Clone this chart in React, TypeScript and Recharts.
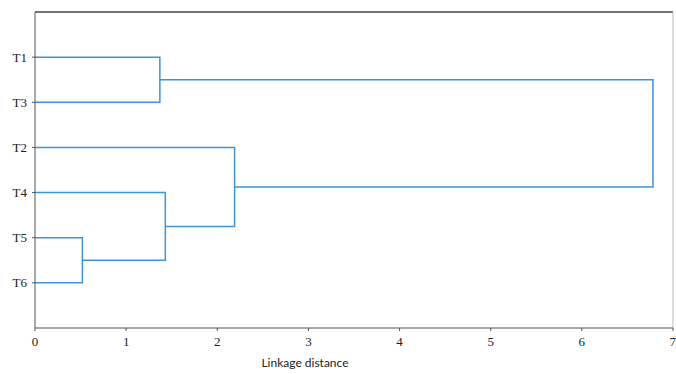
import React from 'react';
import { LineChart, Line, XAxis, YAxis, ReferenceLine } from 'recharts';

// leaves in the order they appear from top to bottom
const leaves = ['T1', 'T3', 'T2', 'T4', 'T5', 'T6'];

// each merge: new cluster name, left child, right child, linkage distance
const mergeNames = ['C1', 'C2', 'C3', 'C4', 'C5'];
const mergeLeft = ['T1', 'T5', 'T4', 'T2', 'C1'];
const mergeRight = ['T3', 'T6', 'C2', 'C3', 'C4'];
const mergeHeights = [1.37, 0.52, 1.43, 2.19, 6.78];

const xTicks = [0, 1, 2, 3, 4, 5, 6, 7];

type Pt = { x: number; y: number };

const buildLinks = (): Pt[][] => {
  const nodes: Record<string, Pt> = {};
  leaves.forEach((l, i) => {
    nodes[l] = { x: 0, y: i + 1 };
  });
  return mergeNames.map((name, i) => {
    const a = nodes[mergeLeft[i]];
    const b = nodes[mergeRight[i]];
    const h = mergeHeights[i];
    nodes[name] = { x: h, y: (a.y + b.y) / 2 };
    return [
      { x: a.x, y: a.y },
      { x: h, y: a.y },
      { x: h, y: b.y },
      { x: b.x, y: b.y },
    ];
  });
};

const links = buildLinks();

const serif = '"Liberation Serif", "DejaVu Serif", serif';

const App = () => {
  return (
    <div style={{ position: 'absolute', left: 0, top: 0, background: '#fff' }}>
      <LineChart width={676} height={374} margin={{ top: 12, right: 3, bottom: 0, left: 0 }}>
        <XAxis
          type="number"
          dataKey="x"
          domain={[0, 7]}
          ticks={xTicks}
          allowDataOverflow
          stroke="#555"
          tickSize={3}
          tickMargin={6}
          height={46}
          tick={{ fill: '#222', fontSize: 13, fontFamily: serif }}
          label={{
            value: 'Linkage distance',
            position: 'insideBottom',
            offset: 7,
            dx: -49,
            style: { fill: '#222', fontSize: 12, fontFamily: 'Lato, "Open Sans", sans-serif' },
          }}
        />
        <YAxis
          type="number"
          dataKey="y"
          domain={[0, 7]}
          reversed
          ticks={[1, 2, 3, 4, 5, 6]}
          tickFormatter={(v: number) => leaves[v - 1]}
          width={35}
          stroke="#555"
          tickSize={3}
          tickMargin={5}
          tick={{ fill: '#222', fontSize: 13, fontFamily: serif }}
        />
        <ReferenceLine y={0} stroke="#444" strokeWidth={1.5} />
        <ReferenceLine x={7} stroke="#bbb" />
        {links.map((seg, i) => (
          <Line
            key={i}
            data={seg}
            dataKey="y"
            type="linear"
            stroke="#3f93d6"
            strokeWidth={1.5}
            dot={false}
            isAnimationActive={false}
          />
        ))}
      </LineChart>
    </div>
  );
};

export default App;
